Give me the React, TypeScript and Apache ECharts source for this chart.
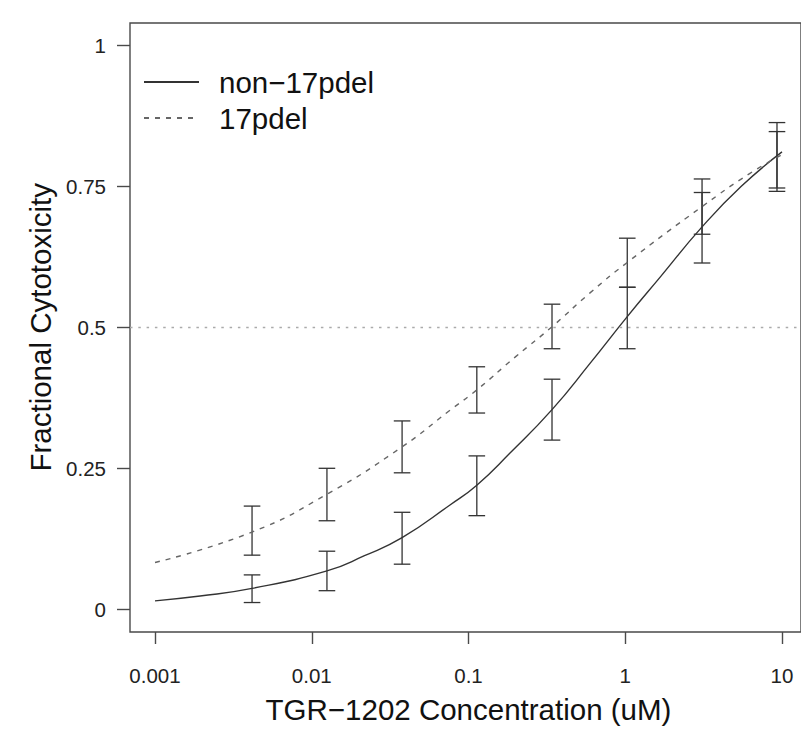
import React, { useEffect, useRef } from "react";
import * as echarts from "echarts";

// Dose points (uM) where cytotoxicity was measured
const CONC = [0.00416, 0.0125, 0.0377, 0.113, 0.341, 1.03, 3.09, 9.29];
// error-bar extents (mean ± sd)
const NON_LOW = [0.012, 0.033, 0.08, 0.166, 0.3, 0.462, 0.614, 0.741];
const NON_HIGH = [0.061, 0.103, 0.172, 0.272, 0.408, 0.571, 0.739, 0.863];
const DEL_LOW = [0.096, 0.157, 0.242, 0.348, 0.462, 0.571, 0.665, 0.747];
const DEL_HIGH = [0.183, 0.25, 0.334, 0.43, 0.541, 0.658, 0.763, 0.847];

// fitted curves, read at points along the picture
const NON_FIT_X = [0.001, 0.00194, 0.00416, 0.0125, 0.0217, 0.0377, 0.0762, 0.113, 0.184, 0.341, 0.596, 1.03, 1.67, 3.09, 5.5, 10];
const NON_FIT_Y = [0.015, 0.0235, 0.037, 0.068, 0.095, 0.127, 0.185, 0.22, 0.277, 0.354, 0.436, 0.519, 0.589, 0.678, 0.75, 0.811];
const DEL_FIT_X = [0.001, 0.00416, 0.0125, 0.0377, 0.0762, 0.113, 0.2, 0.341, 0.596, 1.03, 3.09, 6.25, 10];
const DEL_FIT_Y = [0.083, 0.137, 0.204, 0.288, 0.353, 0.389, 0.448, 0.501, 0.561, 0.615, 0.714, 0.773, 0.806];

const SERIES_NAMES = ["non\u221217pdel", "17pdel"];
const X_TITLE = "TGR\u22121202 Concentration (uM)";
const Y_TITLE = "Fractional Cytotoxicity";
const X_MIN = 0.001;
const X_MAX = 10;
const Y_TICKS_INTERVAL = 0.25;
const REF_LEVEL = 0.5;

const FONT = "'Liberation Sans', Arial, Helvetica, sans-serif";
const AXIS_COLOR = "#4a4a4a";
const BAR_COLOR = "#333";
const BIG = 29.5;

function errorBarRender(params: any, api: any) {
  const x = api.value(0);
  const lo = api.value(1);
  const hi = api.value(2);
  const pLo = api.coord([x, lo]);
  const pHi = api.coord([x, hi]);
  const hw = 8.3;
  const style = { stroke: BAR_COLOR, lineWidth: 1.3, fill: "none" };
  return {
    type: "group",
    children: [
      { type: "line", shape: { x1: pLo[0], y1: pLo[1], x2: pHi[0], y2: pHi[1] }, style },
      { type: "line", shape: { x1: pLo[0] - hw, y1: pLo[1], x2: pLo[0] + hw, y2: pLo[1] }, style },
      { type: "line", shape: { x1: pHi[0] - hw, y1: pHi[1], x2: pHi[0] + hw, y2: pHi[1] }, style },
    ],
  };
}

export default function App() {
  const ref = useRef<HTMLDivElement>(null);
  useEffect(() => {
    document.body.style.margin = "0";
    if (!ref.current) return;
    const chart = echarts.init(ref.current, undefined, { renderer: "svg" });
    const nonLine = NON_FIT_X.map((x, i) => [x, NON_FIT_Y[i]]);
    const delLine = DEL_FIT_X.map((x, i) => [x, DEL_FIT_Y[i]]);
    const nonBars = CONC.map((c, i) => [c, NON_LOW[i], NON_HIGH[i]]);
    const delBars = CONC.map((c, i) => [c, DEL_LOW[i], DEL_HIGH[i]]);

    chart.setOption({
      animation: false,
      textStyle: { fontFamily: FONT },
      grid: [
        {
          left: 130, right: -6, top: 23, bottom: 98,
          show: true, borderColor: AXIS_COLOR, borderWidth: 1.4, backgroundColor: "transparent",
        },
        { left: 155, right: 19, top: 45.3, bottom: 120.7 },
      ],
      xAxis: [
        { type: "value", gridIndex: 0, min: 0, max: 1, show: false },
        {
          type: "log", gridIndex: 1, logBase: 10, min: X_MIN, max: X_MAX,
          offset: 22.7,
          axisLine: { show: false, onZero: false },
          axisTick: { show: true, length: 12, inside: false, lineStyle: { color: AXIS_COLOR, width: 1.4 } },
          splitLine: { show: false },
          axisLabel: {
            fontSize: 20.5, color: "#222", margin: 33, fontFamily: FONT,
            formatter: (v: number) => String(Number(v.toPrecision(6))),
          },
          name: X_TITLE, nameLocation: "middle", nameGap: 62,
          nameTextStyle: { fontSize: BIG, color: "#111", fontFamily: FONT },
        },
      ],
      yAxis: [
        { type: "value", gridIndex: 0, min: -0.04, max: 1.04, show: false },
        {
          type: "value", gridIndex: 1, min: 0, max: 1, interval: Y_TICKS_INTERVAL,
          offset: 25,
          axisLine: { show: false, onZero: false },
          axisTick: { show: true, length: 13, inside: false, lineStyle: { color: AXIS_COLOR, width: 1.4 } },
          splitLine: { show: false },
          axisLabel: { fontSize: 20.5, color: "#222", margin: 24, fontFamily: FONT },
          name: Y_TITLE, nameLocation: "middle", nameGap: 75, nameRotate: 90,
          nameTextStyle: { fontSize: BIG, color: "#111", fontFamily: FONT },
        },
      ],
      legend: {
        data: SERIES_NAMES,
        orient: "vertical",
        left: 138,
        top: 62,
        itemWidth: 55,
        itemHeight: 14,
        itemGap: 6,
        itemStyle: { opacity: 0 },
        textStyle: { fontSize: BIG, color: "#111", fontFamily: FONT, padding: [0, 0, 0, 15] },
      },
      series: [
        {
          type: "line",
          xAxisIndex: 0, yAxisIndex: 0,
          data: [],
          silent: true,
          markLine: {
            silent: true, symbol: "none", label: { show: false },
            lineStyle: { color: "#aaa", type: [2.5, 5.8], width: 1.3 },
            data: [{ yAxis: REF_LEVEL }],
          },
        },
        {
          name: SERIES_NAMES[0], type: "line", xAxisIndex: 1, yAxisIndex: 1,
          data: nonLine, smooth: 0.5, showSymbol: false, symbol: "none",
          color: "#333",
          lineStyle: { color: "#333", width: 1.4, type: "solid" },
        },
        {
          name: SERIES_NAMES[1], type: "line", xAxisIndex: 1, yAxisIndex: 1,
          data: delLine, smooth: 0.5, showSymbol: false, symbol: "none",
          color: "#666",
          lineStyle: { color: "#666", width: 1.4, type: [5, 6] },
        },
        {
          name: SERIES_NAMES[0] + " sd", type: "custom", xAxisIndex: 1, yAxisIndex: 1,
          data: nonBars, encode: { x: 0, y: [1, 2] }, renderItem: errorBarRender, clip: false,
        },
        {
          name: SERIES_NAMES[1] + " sd", type: "custom", xAxisIndex: 1, yAxisIndex: 1,
          data: delBars, encode: { x: 0, y: [1, 2] }, renderItem: errorBarRender, clip: false,
        },
      ],
    });
    return () => chart.dispose();
  }, []);
  return <div ref={ref} style={{ width: 801, height: 730 }} />;
}
